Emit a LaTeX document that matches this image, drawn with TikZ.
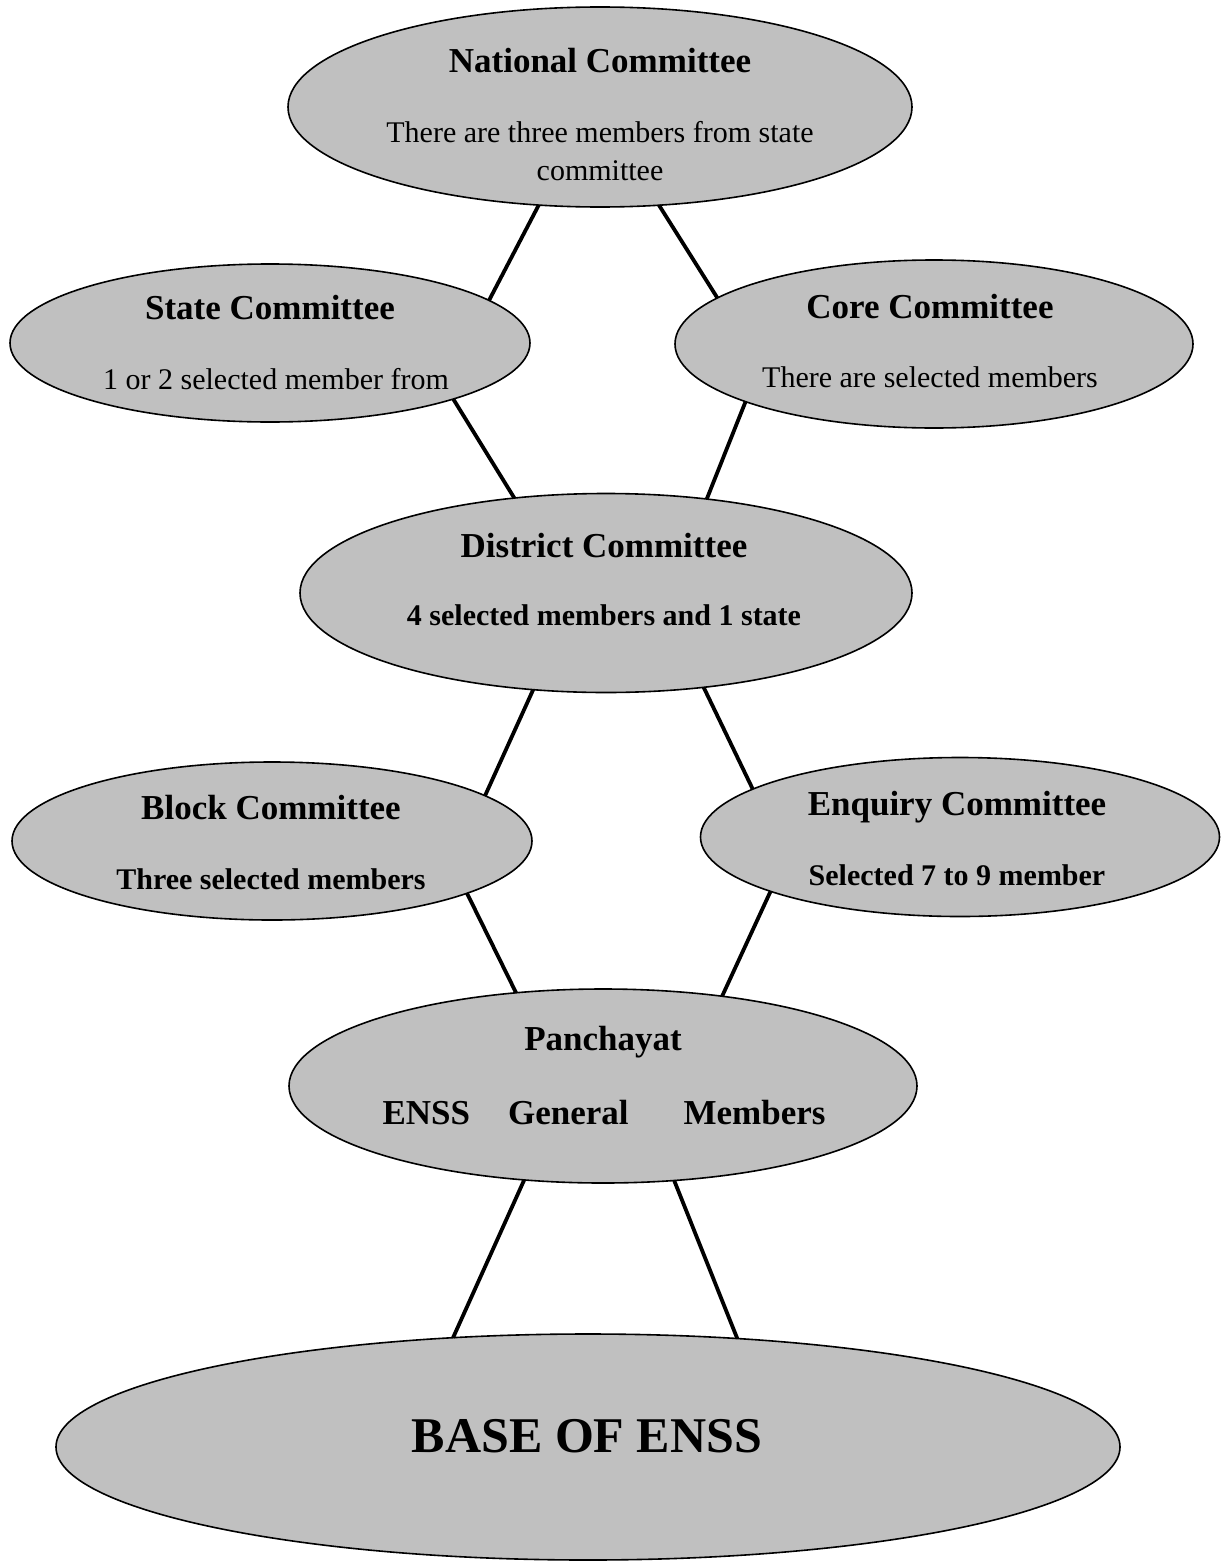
\documentclass[tikz,border=0pt]{standalone}
\usepackage{fontspec}
\setmainfont{Liberation Serif}
\usetikzlibrary{shapes.geometric}
\definecolor{ovalgray}{RGB}{192,192,192}

\begin{document}
\begin{tikzpicture}[x=0.5pt,y=-0.5pt,
  oval/.style={ellipse, draw, fill=ovalgray, line width=0.8pt, inner sep=0pt, outer sep=0pt},
  head/.style={font=\fontsize{17.5}{20}\selectfont\bfseries, text height=1.5ex, text depth=0pt, inner sep=0pt},
  txt/.style={font=\fontsize{15}{18}\selectfont, text height=1.5ex, text depth=0pt, inner sep=0pt},
  btxt/.style={txt, font=\fontsize{15}{18}\selectfont\bfseries},
  link/.style={line width=1.9pt}]

\useasboundingbox (0,0) rectangle (1223,1568);

% Ovale
\node[oval, minimum width=312pt, minimum height=100pt] (nat) at (600,107) {};
\node[oval, minimum width=260pt, minimum height=79pt] (state) at (270,343) {};
\node[oval, minimum width=259pt, minimum height=84pt] (core) at (934,344) {};
\node[oval, minimum width=306pt, minimum height=99.5pt] (dist) at (606,593) {};
\node[oval, minimum width=260pt, minimum height=79pt] (block) at (272,841) {};
\node[oval, minimum width=259.5pt, minimum height=79.5pt] (enq) at (960,837) {};
\node[oval, minimum width=314pt, minimum height=97pt] (pan) at (603,1086) {};
\node[oval, minimum width=532pt, minimum height=113pt] (base) at (588,1447) {};

% Texte
\node[head] (natA) at (600,66) {National Committee};
\node[txt] (natB) at (600,136) {There are three members from state};
\node[txt] (natC) at (600,174) {committee};

\node[head] (stA) at (270,313) {State Committee};
\node[txt] (stB) at (276,383) {1 or 2 selected member from};

\node[head] (coA) at (930,312) {Core Committee};
\node[txt] (coB) at (930,381) {There are selected members};

\node[head] (diA) at (604,551) {District Committee};
\node[btxt] (diB) at (604,619) {4 selected members and 1 state};

\node[head] (blA) at (271,813) {Block Committee};
\node[btxt] (blB) at (271,883) {Three selected members};

\node[head] (enA) at (957,809) {Enquiry Committee};
\node[btxt] (enB) at (957,879) {Selected 7 to 9 member};

\node[head] (paA) at (603,1044) {Panchayat};
\node[head] (paB) at (604,1118) {ENSS\hspace{19pt}General\hspace{27.5pt}Members};

\node[head, font=\fontsize{25}{30}\selectfont\bfseries] (baseA) at (587,1446) {BASE OF ENSS};

% Verbindungen
\draw[link] (nat.238.7) -- (state.11.8);
\draw[link] (nat.301.3) -- (core.168.5);
\draw[link] (state.343.9) -- (dist.134.8);
\draw[link] (core.197.1) -- (dist.43.6);
\draw[link] (dist.233) -- (block.12.5);
\draw[link] (dist.316) -- (enq.167.9);
\draw[link] (block.345.3) -- (pan.133.7);
\draw[link] (enq.196.5) -- (pan.37.2);
\draw[link] (pan.230.5) -- (base.141.4);
\draw[link] (pan.307.7) -- (base.36.3);

\end{tikzpicture}
\end{document}
